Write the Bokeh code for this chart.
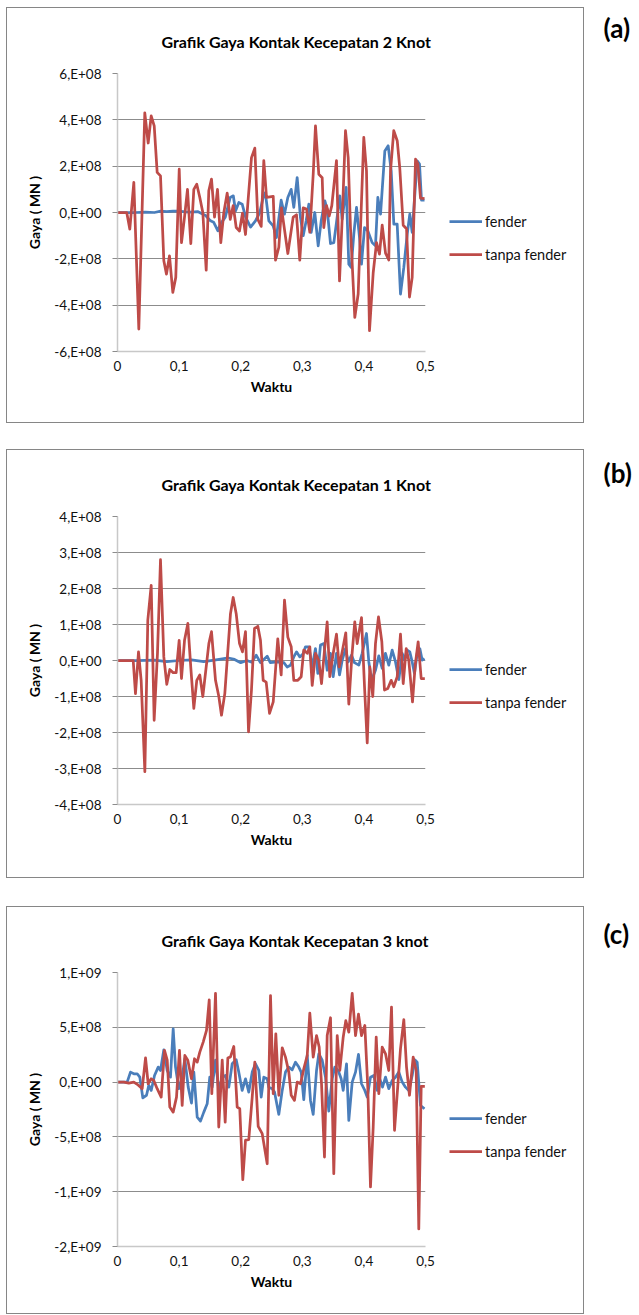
from bokeh.plotting import figure
from bokeh.models import (Range1d, FixedTicker, CustomJSTickFormatter, Legend,
                          LegendItem, Label, Spacer, Title)
from bokeh.layouts import column, row
from bokeh.embed import file_html
from bokeh.resources import INLINE

FONT = "Lato"
BLUE = "#4A7EBB"
RED = "#BE4B48"
SCALE = 1e8  # series values below are given in units of 1e8
NAN = float("nan")

series_names = ["fender", "tanpa fender"]
titles = ["Grafik Gaya Kontak Kecepatan 2 Knot",
          "Grafik Gaya Kontak Kecepatan 1 Knot",
          "Grafik Gaya Kontak Kecepatan 3 knot"]
letters = ["(a)", "(b)", "(c)"]

x_ticks = [0, 0.1, 0.2, 0.3, 0.4, 0.5]
x_tick_labels = ["0", "0,1", "0,2", "0,3", "0,4", "0,5"]

a_yticks = [-6e8, -4e8, -2e8, 0, 2e8, 4e8, 6e8]
a_ylabels = ["-6,E+08", "-4,E+08", "-2,E+08", "0,E+00", "2,E+08", "4,E+08", "6,E+08"]
b_yticks = [-4e8, -3e8, -2e8, -1e8, 0, 1e8, 2e8, 3e8, 4e8]
b_ylabels = ["-4,E+08", "-3,E+08", "-2,E+08", "-1,E+08", "0,E+00", "1,E+08", "2,E+08", "3,E+08", "4,E+08"]
c_yticks = [-1.5e9, -1e9, -5e8, 0, 5e8, 1e9]
c_ylabels = ["-2,E+09", "-1,E+09", "-5,E+08", "0,E+00", "5,E+08", "1,E+09"]

# (time, force/1e8) pairs
a_fender = [(0, 0), (0.03, 0), (0.045, 0.02), (0.06, 0), (0.07, 0.06), (0.08, 0.04), (0.09, 0.06),
            (0.1, 0.06), (0.11, 0.03), (0.12, 0.02), (0.13, 0.04), (0.143, -0.13), (0.151, -0.36),
            (0.156, -0.42), (0.163, -0.79), (0.167, -0.5), (0.175, -0.2), (0.183, 0.65), (0.188, 0.72),
            (0.1916, 0.07), (0.197, 0.43), (0.2024, 0.36), (0.208, -0.2), (0.216, -0.63), (0.224, -0.36),
            (0.231, 0), (0.236, 0.6), (0.240, 0.86), (0.2457, -0.36), (0.2527, -0.58), (0.258, -1.08),
            (0.2657, 0.53), (0.271, -0.07), (0.2765, 0.65), (0.282, 1.0), (0.2862, 0.22), (0.2917, 1.51),
            (0.297, -0.22), (0.3015, -1.0), (0.3063, -0.36), (0.3106, 0.36), (0.3144, -0.86), (0.3203, 0),
            (0.3258, -1.44), (0.3307, -0.36), (0.3366, 0.5), (0.3404, 0.14), (0.3458, -1.34), (0.3512, -1.3),
            (0.3555, -0.43), (0.3609, 0.72), (0.3647, -0.29), (0.3712, 1.08), (0.3755, -2.23), (0.3794, -2.37),
            (0.3836, -0.94), (0.388, 0.22), (0.3929, -1.08), (0.3961, -2.23), (0.401, -0.65), (0.4063, -0.79),
            (0.4134, -1.3), (0.4188, -1.44), (0.4226, 0.65), (0.427, -0.07), (0.434, 2.66), (0.4394, 2.88),
            (0.4443, 1.8), (0.4486, -0.5), (0.454, -0.5), (0.4594, -3.52), (0.4648, -2.37), (0.4703, -0.94),
            (0.4745, -0.07), (0.4784, -0.86), (0.4865, 2.23), (0.4903, 2.09), (0.4935, 0.53), (0.4984, 0.53)]
a_tanpa = [(0, 0), (0.015, 0), (0.020, -0.72), (0.0265, 1.3), (0.0346, -5.03), (0.0443, 4.3), (0.0498, 3.0),
           (0.0547, 4.17), (0.0596, 3.74), (0.0644, 1.73), (0.0698, 1.58), (0.0752, -2.08), (0.0795, -2.66),
           (0.0844, -1.87), (0.0898, -3.45), (0.0946, -2.8), (0.1002, 1.87), (0.1039, -1.3), (0.1088, -0.2),
           (0.1136, 1.0), (0.119, -1.34), (0.1239, 1.0), (0.1287, 1.22), (0.1336, 0.65), (0.1385, 0),
           (0.144, -2.49), (0.1482, 0.94), (0.1526, 1.44), (0.1575, -0.2), (0.1623, 1.0), (0.1677, -1.3),
           (0.1726, 0), (0.1781, 0.84), (0.183, -0.3), (0.1878, 0.3), (0.1927, -0.65), (0.198, -0.8),
           (0.2029, -0.03), (0.2078, -0.95), (0.2122, 0.6), (0.2175, 2.37), (0.2229, 2.78), (0.2278, -0.3),
           (0.2333, -0.6), (0.2375, 2.24), (0.2419, 0.65), (0.2528, 0.7), (0.2565, -2.06), (0.2619, -1.5),
           (0.2662, 0.2), (0.2765, -1.77), (0.2852, -0.2), (0.2906, -0.1), (0.2959, -2.06), (0.3015, 0.2),
           (0.3068, 0.15), (0.3122, -0.85), (0.3177, 1.65), (0.3214, 3.74), (0.3268, 1.65), (0.3323, 1.5),
           (0.3349, -0.65), (0.3393, 0.3), (0.3437, -0.15), (0.3479, 0.3), (0.3555, 2.24), (0.3604, -2.95),
           (0.3653, 0.08), (0.3701, 3.53), (0.3745, 2.37), (0.3782, -0.65), (0.3852, -4.53), (0.3907, -3.52),
           (0.3998, 3.24), (0.4042, 1.8), (0.4091, -5.1), (0.4151, -2.6), (0.4205, -1.3), (0.4253, -1.8),
           (0.4297, -0.55), (0.4351, -1.75), (0.4404, -2.05), (0.4432, 1.8), (0.4485, 3.53), (0.4541, 3.1),
           (0.4583, 1.9), (0.4638, -0.55), (0.4692, -0.7), (0.474, -3.65), (0.4784, -2.8), (0.4838, 2.3),
           (0.4875, 2.1), (0.4919, 0.62), (0.4984, 0.6)]

b_fender = [(0, 0), (0.03, 0), (0.06, 0.01), (0.08, -0.03), (0.1, 0), (0.12, 0.02), (0.14, -0.03),
            (0.16, 0.02), (0.18, 0.07), (0.19, 0.03), (0.2, -0.06), (0.21, 0.0), (0.218, -0.05),
            (0.2252, 0.15), (0.232, -0.06), (0.243, 0.12), (0.248, -0.06), (0.2592, -0.04), (0.27, -0.06),
            (0.2754, -0.18), (0.2808, -0.13), (0.2862, 0.1), (0.2906, 0.24), (0.296, 0.1), (0.3014, 0.19),
            (0.3052, 0.38), (0.3106, 0.38), (0.316, -0.18), (0.3214, 0.33), (0.3252, -0.36), (0.3295, 0.43),
            (0.335, 0.47), (0.3404, -0.27), (0.3458, 0.2), (0.3501, -0.45), (0.3555, 0.2), (0.3604, -0.4),
            (0.3647, 0), (0.3701, 0.33), (0.3745, -0.04), (0.3799, 0.15), (0.3847, -0.06), (0.3918, -0.13),
            (0.3972, 0.2), (0.4042, 0.75), (0.408, -0.04), (0.4123, -0.55), (0.4188, -0.27), (0.4242, 0.13),
            (0.4297, -0.22), (0.435, 0.2), (0.4404, -0.13), (0.4459, 0.29), (0.4513, -0.04), (0.4567, -0.53),
            (0.4621, 0.2), (0.4659, 0.01), (0.4703, 0.29), (0.4745, 0.24), (0.4784, -0.04), (0.4821, -0.36),
            (0.4865, 0.2), (0.4908, 0.33), (0.4946, 0.01), (0.4984, 0.05)]
b_tanpa = [(0, 0), (0.0255, 0), (0.0292, -0.92), (0.0341, 0.24), (0.0384, -0.55), (0.0444, -3.09),
           (0.0492, 1.12), (0.0547, 2.09), (0.0595, -1.66), (0.0649, 0.2), (0.0698, 2.8), (0.0752, 0.1),
           (0.08, -0.66), (0.0849, -0.25), (0.0904, -0.34), (0.0952, -0.34), (0.1001, 0.56), (0.1039, -0.5),
           (0.1088, 0.56), (0.1142, 1.03), (0.119, -0.2), (0.1239, -1.33), (0.1287, -0.55), (0.1336, -0.4),
           (0.1385, -1.0), (0.1483, 0.47), (0.1526, 0.8), (0.1591, -0.55), (0.1645, -1.0), (0.1688, -1.52),
           (0.1742, -0.92), (0.1834, 1.3), (0.1878, 1.75), (0.1927, 1.3), (0.1981, 0.47), (0.2029, 0.24),
           (0.2078, 0.8), (0.2127, -1.98), (0.2175, -0.82), (0.2224, 0.89), (0.2278, 0.95), (0.2321, 0.56),
           (0.2365, -0.55), (0.2414, -0.6), (0.2468, -1.47), (0.2528, -1.15), (0.2602, 0.6), (0.2657, -0.4),
           (0.2711, 1.68), (0.2765, 0.65), (0.282, 0.38), (0.2862, -0.55), (0.2927, -0.55), (0.2982, -0.45),
           (0.3024, 0.29), (0.308, 0.2), (0.3122, 0.38), (0.3161, -0.69), (0.3214, 0.2), (0.3268, 0),
           (0.3312, -0.64), (0.3356, 0.2), (0.3404, 1.07), (0.3446, -0.45), (0.3502, 0.2), (0.3555, 0.73),
           (0.3599, -0.18), (0.3653, 0.29), (0.3706, 0.77), (0.3755, -1.21), (0.3804, 0.1), (0.3852, 1.07),
           (0.3891, 0.47), (0.3961, 1.19), (0.401, -0.73), (0.4054, -2.29), (0.4096, -0.18), (0.4144, -1.0),
           (0.4188, 0.47), (0.4237, 1.21), (0.4291, 0.52), (0.4334, -0.82), (0.4388, -0.78), (0.4443, -0.55),
           (0.4485, -0.73), (0.4541, -0.45), (0.4594, 0.73), (0.4638, -0.64), (0.4687, 0.33), (0.4729, 0),
           (0.4789, -1.15), (0.4833, -0.13), (0.4881, 0.52), (0.493, -0.5), (0.4989, -0.5)]

c_fender = [(0, 0), (0.0157, 0), (0.0211, 0.91), (0.0265, 0.76), (0.032, 0.76), (0.0362, 0.45),
            (0.0411, -1.43), (0.0471, -1.2), (0.0508, -0.3), (0.0547, -0.76), (0.0601, 0.6), (0.0661, 1.37),
            (0.0698, 1.06), (0.0752, 2.95), (0.0807, 1.06), (0.086, 0.45), (0.0904, 4.86), (0.0942, 1.37),
            (0.0995, -0.6), (0.105, 0.45), (0.1093, 2.13), (0.1148, -0.46), (0.1201, -1.91), (0.1239, 0.91),
            (0.1294, -3.19), (0.1347, -3.56), (0.1401, -2.74), (0.1456, -1.98), (0.1498, 0.45), (0.1537, -0.46),
            (0.1591, 2.0), (0.1644, -0.76), (0.17, 0.45), (0.1753, 0.6), (0.1807, -0.46), (0.1862, 1.67),
            (0.1927, 2.04), (0.1969, 0.91), (0.2024, -0.76), (0.2078, 0.3), (0.2131, -0.91), (0.2187, 0.91),
            (0.224, 1.67), (0.2294, 1.06), (0.2333, -1.37), (0.2375, 0.45), (0.243, 0.3), (0.2456, -0.46),
            (0.2511, -0.6), (0.2549, -0.9), (0.2619, -2.95), (0.2674, -0.76), (0.2727, 0.91), (0.2781, 1.37),
            (0.2836, 1.12), (0.289, 1.82), (0.2943, 1.37), (0.2982, 0.91), (0.3024, -1.6), (0.308, 2.43),
            (0.3133, -1.67), (0.3177, -2.95), (0.3231, 1.06), (0.3268, 2.58), (0.3323, 2.0), (0.3377, 0.45),
            (0.343, -2.64), (0.3485, 0.3), (0.3528, 1.37), (0.3583, 1.06), (0.3631, 0.3), (0.3664, -0.76),
            (0.3718, 1.67), (0.3755, -3.5), (0.381, 0), (0.3864, 0.91), (0.3912, 2.52), (0.3961, -0.15),
            (0.4015, -0.76), (0.4054, -1.37), (0.4107, 0.45), (0.4161, 0.6), (0.4216, -0.76), (0.4258, 0.3),
            (0.4302, -0.46), (0.4351, 0.45), (0.4404, -0.6), (0.4459, 0.15), (0.4513, 0.45), (0.4567, 0.91),
            (0.4622, 0), (0.4675, -0.46), (0.4729, -0.76), (0.4784, 0.6), (0.4826, 2.04), (0.4865, 1.82),
            (0.4919, -2.13), (0.4984, -2.43)]
c_tanpa = [(0, 0), (0.0102, 0), (0.0183, -0.09), (0.0265, 0), (0.032, -0.2), (0.0401, -0.6), (0.0455, 2.2),
           (0.0498, -0.15), (0.0547, 0.3), (0.0589, 0.15), (0.0644, -0.6), (0.0709, -1.37), (0.0763, 2.9),
           (0.0807, 2.0), (0.0849, -2.28), (0.0904, -2.74), (0.0958, -1.37), (0.1006, 2.9), (0.105, -2.13),
           (0.1093, 2.43), (0.1141, 2.0), (0.1201, 0.3), (0.125, 2.13), (0.1294, 1.82), (0.1336, 2.74),
           (0.1391, 3.65), (0.1445, 4.71), (0.1489, 7.5), (0.1531, -1.06), (0.1591, 8.1), (0.1644, -4.1),
           (0.17, 2.0), (0.1748, -3.65), (0.1791, 2.2), (0.1834, 2.3), (0.1888, 3.25), (0.1943, -2.28),
           (0.1985, -2.43), (0.2034, -8.9), (0.2078, -5.3), (0.2131, -5.26), (0.2187, -1.37), (0.2229, 1.82),
           (0.2284, -4.04), (0.2349, -4.7), (0.243, -7.45), (0.2484, 7.9), (0.2528, -1.06), (0.257, 4.4),
           (0.2619, -1.2), (0.2674, 3.13), (0.2727, 2.28), (0.2781, 0.91), (0.282, -1.2), (0.2873, -1.67),
           (0.2917, 0), (0.2971, -0.15), (0.3024, 1.2), (0.308, 2.43), (0.3122, 6.3), (0.3177, 2.28),
           (0.3231, 4.25), (0.3274, 3.2), (0.3312, -0.15), (0.336, -6.84), (0.3404, 4.25), (0.3458, 5.87),
           (0.3511, -8.36), (0.3567, 4.25), (0.3609, 1.06), (0.3664, 4.1), (0.3706, 5.6), (0.3755, 4.56),
           (0.381, 8.1), (0.3864, 4.25), (0.3912, 6.2), (0.3961, 4.25), (0.4015, 5.17), (0.4063, -0.46),
           (0.4107, -9.57), (0.4151, -4.1), (0.42, 4.1), (0.4242, -1.06), (0.4297, 3.2), (0.4351, 2.58),
           (0.4404, 1.06), (0.4448, 6.84), (0.4497, -4.4), (0.4541, -1.06), (0.4594, 3.04), (0.4648, 5.7),
           (0.4692, 1.37), (0.474, -1.2), (0.48, 2.28), (0.4849, 1.06), (0.4891, -13.4), (0.493, -0.4),
           (0.4989, -0.4)]


def lookup_formatter(tick_values, tick_texts):
    return CustomJSTickFormatter(args=dict(tv=tick_values, tl=tick_texts), code="""
        let best = 0, bd = Infinity;
        for (let i = 0; i < tv.length; i++) {
            const d = Math.abs(tv[i] - tick);
            if (d < bd) { bd = d; best = i; }
        }
        return tl[best];
    """)


CHART_W = 433    # page x 7 .. 440
LEGEND_W = 143   # page x 440 .. 583 (end of the boxed chart area)
LETTER_W = 56    # page x 583 .. 639


def make_chart(height, top, bottom, yticks, ylabels, fender, tanpa, title, title_standoff):
    p = figure(width=CHART_W, height=height, x_range=Range1d(0, 0.5),
               y_range=Range1d(yticks[0], yticks[-1]),
               output_backend="svg", toolbar_location=None,
               min_border_left=110, min_border_right=CHART_W - 110 - 308,
               min_border_top=top, min_border_bottom=bottom,
               background_fill_color="white", border_fill_color="white")
    p.title = Title(text=title, align="left", offset=44, standoff=title_standoff,
                    vertical_align="middle", text_font=FONT, text_font_style="bold",
                    text_font_size="16px", text_color="black")
    p.outline_line_color = None
    p.xgrid.grid_line_color = None
    p.ygrid.ticker = FixedTicker(ticks=yticks)
    p.ygrid.grid_line_color = "#8c8c8c"
    p.ygrid.grid_line_width = 1

    p.xaxis.ticker = FixedTicker(ticks=x_ticks)
    p.xaxis.formatter = lookup_formatter(x_ticks, x_tick_labels)
    p.yaxis.ticker = FixedTicker(ticks=yticks)
    p.yaxis.formatter = lookup_formatter(yticks, ylabels)
    for ax in (p.xaxis[0], p.yaxis[0]):
        ax.major_label_text_font = FONT
        ax.major_label_text_font_size = "13.5px"
        ax.major_label_text_color = "#111111"
        ax.axis_label_text_font = FONT
        ax.axis_label_text_font_style = "bold"
        ax.axis_label_text_font_size = "14px"
        ax.axis_label_text_color = "black"
        ax.minor_tick_line_color = None
        ax.axis_line_color = "#c8c8c8"
        ax.axis_line_width = 1.5
    p.xaxis.axis_label = "Waktu"
    p.xaxis.major_tick_line_color = None
    p.xaxis.major_label_standoff = 3
    p.xaxis.axis_label_standoff = 4
    p.yaxis.axis_label = "Gaya ( MN )"
    p.yaxis.major_tick_in = 0
    p.yaxis.major_tick_out = 5
    p.yaxis.major_tick_line_color = "#8c8c8c"
    p.yaxis.major_label_standoff = 11
    p.yaxis.axis_label_standoff = 8

    p.line([t for t, v in fender], [v * SCALE for t, v in fender],
           line_color=BLUE, line_width=2.75, line_join="round")
    p.line([t for t, v in tanpa], [v * SCALE for t, v in tanpa],
           line_color=RED, line_width=2.75, line_join="round")
    return p


def bare_figure(width, height, top=0, bottom=0):
    f = figure(width=width, height=height, x_range=Range1d(0, 1),
               y_range=Range1d(0, 1), output_backend="svg", toolbar_location=None,
               min_border_left=0, min_border_top=top, min_border_right=0,
               min_border_bottom=bottom, x_axis_location=None, y_axis_location=None,
               background_fill_color=None, border_fill_color=None)
    f.outline_line_color = None
    f.grid.visible = False
    return f


def make_legend(height, top, bottom):
    # same frame rows as the chart beside it, so the two line up
    f = bare_figure(LEGEND_W, height, top=top, bottom=bottom)
    frame_h = height - top - bottom
    # legend keys (no data of their own) for the two series drawn in the chart on the left
    k1 = f.line(x=[NAN], y=[NAN], line_color=BLUE, line_width=2.75)
    k2 = f.line(x=[NAN], y=[NAN], line_color=RED, line_width=2.75)
    legend = Legend(items=[LegendItem(label=series_names[0], renderers=[k1]),
                           LegendItem(label=series_names[1], renderers=[k2])],
                    location=(9, frame_h / 2 - 52),
                    padding=0, margin=0, spacing=13,
                    glyph_width=33, glyph_height=20, label_height=20, label_standoff=3,
                    label_text_font=FONT, label_text_font_size="14.5px",
                    label_text_color="#111111",
                    border_line_color=None, background_fill_alpha=0)
    f.add_layout(legend)
    return f


def make_letter(height, letter, letter_y):
    f = bare_figure(LETTER_W, height)
    f.y_range = Range1d(height, 0)
    f.x_range = Range1d(0, LETTER_W)
    f.add_layout(Label(x=20, y=letter_y, text=letter, text_align="left", text_baseline="middle",
                       text_font=FONT, text_font_style="bold", text_font_size="26px",
                       text_color="black"))
    return f


def panel(height, top, bottom, yticks, ylabels, fender, tanpa, i, letter_y):
    # the title row must fit inside the top border so the plot area keeps its place
    chart = make_chart(height, top, bottom, yticks, ylabels, fender, tanpa, titles[i], top - 22)
    leg = make_legend(height, top, bottom)
    boxed = row(chart, leg, spacing=0, styles={"outline": "1.5px solid #868686"})
    lab = make_letter(height, letters[i], letter_y)
    return row(Spacer(width=7, height=height), boxed, lab, spacing=0)


ra = panel(414, 65, 71, a_yticks, a_ylabels, a_fender, a_tanpa, 0, 19)
rb = panel(427, 66, 73, b_yticks, b_ylabels, b_fender, b_tanpa, 1, 22)
rc = panel(406, 65, 67, c_yticks, c_ylabels, c_fender, c_tanpa, 2, 26)

layout = column(Spacer(width=639, height=8), ra, Spacer(width=639, height=28), rb,
                Spacer(width=639, height=30), rc, Spacer(width=639, height=2), spacing=0)
open("out.html", "w").write(file_html(layout, INLINE))
